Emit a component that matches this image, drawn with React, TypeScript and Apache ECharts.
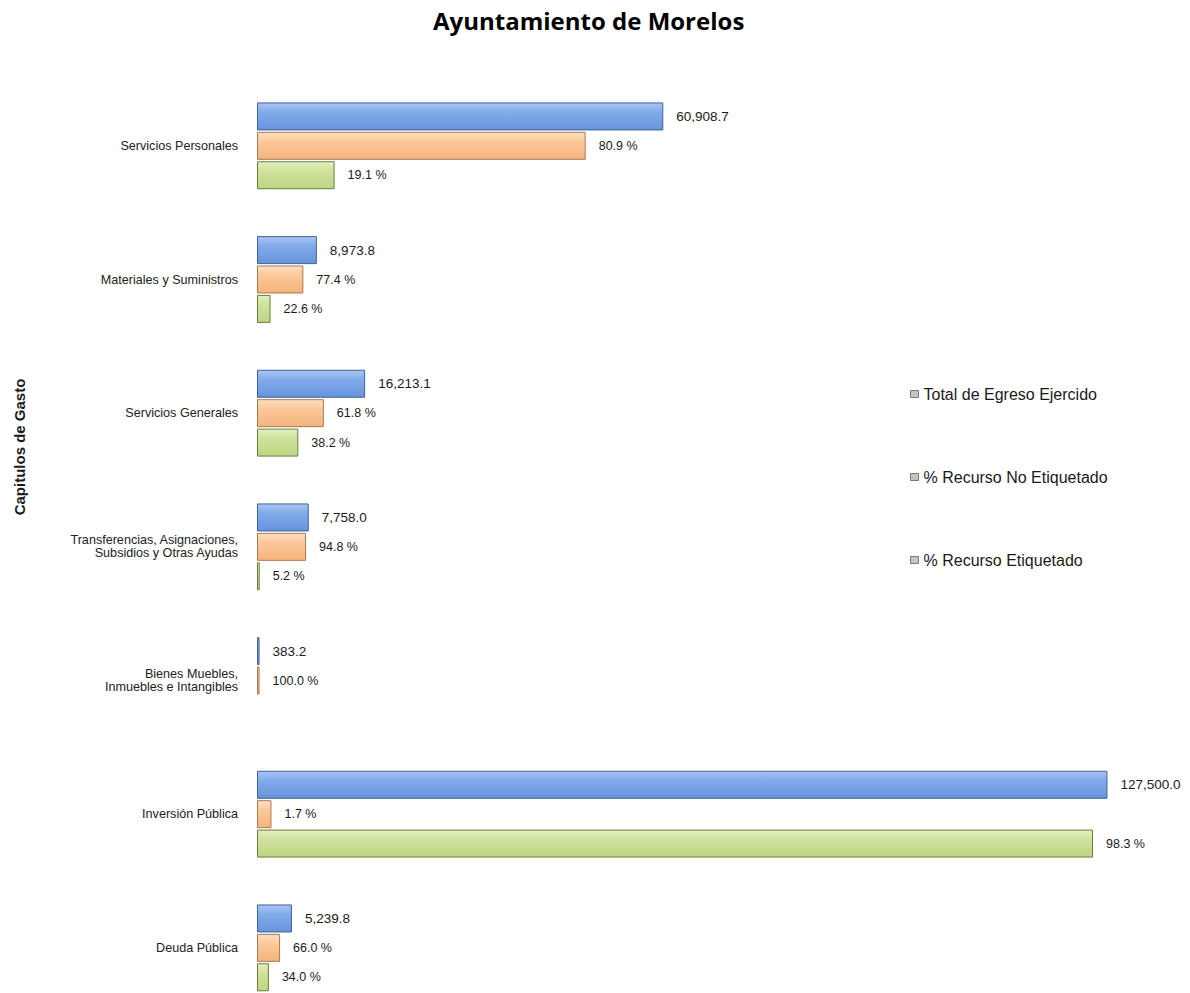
import React, { useEffect, useRef } from "react";
import * as echarts from "echarts";

const categories = [
  "Servicios Personales",
  "Materiales y Suministros",
  "Servicios Generales",
  "Transferencias, Asignaciones,\nSubsidios y Otras Ayudas",
  "Bienes Muebles,\nInmuebles e Intangibles",
  "Inversión Pública",
  "Deuda Pública",
];
const totalEgreso = [60908.7, 8973.8, 16213.1, 7758.0, 383.2, 127500.0, 5239.8];
const pctNoEtiquetado = [80.9, 77.4, 61.8, 94.8, 100.0, 1.7, 66.0];
const pctEtiquetado = [19.1, 22.6, 38.2, 5.2, 0, 98.3, 34.0];
const seriesNames = ["Total de Egreso Ejercido", "% Recurso No Etiquetado", "% Recurso Etiquetado"];

const FONT = "'Liberation Sans', Arial, sans-serif";

const grad = (top: string, mid: string, bottom: string) =>
  new echarts.graphic.LinearGradient(0, 0, 0, 1, [
    { offset: 0, color: top },
    { offset: 0.35, color: mid },
    { offset: 1, color: bottom },
  ]);

const fmtNum = (v: number) =>
  v.toLocaleString("en-US", { minimumFractionDigits: 1, maximumFractionDigits: 1 });

const toItems = (values: number[]) =>
  values.map((v) => (v > 0 ? v : { value: v, itemStyle: { borderWidth: 0, opacity: 0 } }));

export default function App() {
  const ref = useRef<HTMLDivElement>(null);
  useEffect(() => {
    if (!ref.current) return;
    const chart = echarts.init(ref.current, undefined, { renderer: "svg" });
    const noEtiqValues = totalEgreso.map((t, i) => (t * pctNoEtiquetado[i]) / 100);
    const etiqValues = totalEgreso.map((t, i) => (t * pctEtiquetado[i]) / 100);
    const labelBase = {
      show: true,
      position: "right" as const,
      distance: 13,
      color: "#1a1a1a",
      fontFamily: FONT,
    };
    chart.setOption({
      animation: false,
      backgroundColor: "#ffffff",
      title: {
        text: "Ayuntamiento de Morelos",
        left: 428,
        top: 3,
        textStyle: {
          fontFamily: "'Open Sans', sans-serif",
          fontWeight: "bold",
          fontSize: 24,
          color: "#000",
        },
      },
      legend: {
        orient: "vertical",
        left: 910,
        top: 386,
        padding: 0,
        itemGap: 67,
        itemWidth: 8,
        itemHeight: 7,
        icon: "rect",
        data: seriesNames,
        itemStyle: { color: "#c4c4c4", borderColor: "#7a7a7a", borderWidth: 1 },
        textStyle: { fontFamily: FONT, fontSize: 16, color: "#1a1a1a" },
      },
      graphic: [
        {
          type: "text",
          x: 19,
          y: 447,
          rotation: Math.PI / 2,
          style: {
            text: "Capitulos de Gasto",
            fontFamily: FONT,
            fontWeight: "bold",
            fontSize: 15,
            fill: "#1a1a1a",
            textAlign: "center",
            textVerticalAlign: "middle",
          },
        },
      ],
      grid: { left: 257, top: 79, width: 900.5, height: 935.7 },
      xAxis: {
        type: "value",
        min: 0,
        max: 135000,
        show: false,
        splitLine: { show: false },
      },
      yAxis: {
        type: "category",
        data: categories,
        inverse: true,
        axisLine: { show: false },
        axisTick: { show: false },
        axisLabel: {
          margin: 19,
          fontFamily: FONT,
          fontSize: 12.6,
          lineHeight: 13,
          color: "#222",
          align: "right",
        },
      },
      series: [
        {
          name: seriesNames[0],
          type: "bar",
          data: toItems(totalEgreso),
          barWidth: 28,
          barGap: "5%",
          itemStyle: {
            color: grad("#a9c6f2", "#80aaea", "#6894dd"),
            borderColor: "#3f6297",
            borderWidth: 1,
          },
          label: {
            ...labelBase,
            fontSize: 13.5,
            formatter: (p: any) => fmtNum(totalEgreso[p.dataIndex]),
          },
        },
        {
          name: seriesNames[1],
          type: "bar",
          data: toItems(noEtiqValues),
          barWidth: 28,
          barGap: "5%",
          itemStyle: {
            color: grad("#fde0c2", "#fbc899", "#f5b37c"),
            borderColor: "#a87a52",
            borderWidth: 1,
          },
          label: {
            ...labelBase,
            fontSize: 12.5,
            formatter: (p: any) => pctNoEtiquetado[p.dataIndex].toFixed(1) + " %",
          },
        },
        {
          name: seriesNames[2],
          type: "bar",
          data: toItems(etiqValues),
          barWidth: 28,
          barGap: "5%",
          itemStyle: {
            color: grad("#e3efc2", "#cfe29c", "#bcd582"),
            borderColor: "#6c7f3b",
            borderWidth: 1,
          },
          label: {
            ...labelBase,
            fontSize: 12.5,
            formatter: (p: any) =>
              pctEtiquetado[p.dataIndex] > 0 ? pctEtiquetado[p.dataIndex].toFixed(1) + " %" : "",
          },
        },
      ],
    });
    return () => chart.dispose();
  }, []);
  return (
    <div
      style={{
        position: "absolute",
        left: 0,
        top: 0,
        width: 1190,
        height: 993,
        overflow: "hidden",
        background: "#fff",
      }}
    >
      <div ref={ref} style={{ width: 1190, height: 1016 }} />
    </div>
  );
}
